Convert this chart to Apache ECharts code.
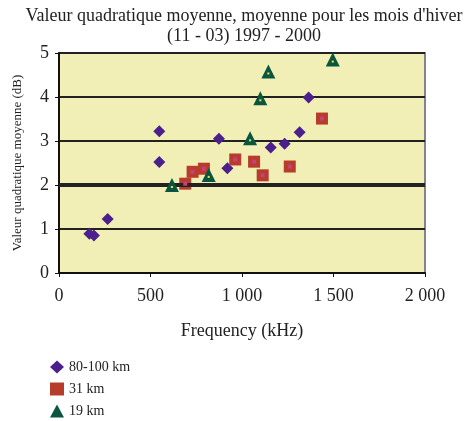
<!DOCTYPE html>
<html>
<head>
<meta charset="utf-8">
<script src="https://cdn.jsdelivr.net/npm/echarts@6/dist/echarts.min.js"></script>
<style>
  html, body { margin: 0; padding: 0; background: #fff; }
  #chart { width: 471px; height: 421px; }
</style>
</head>
<body>
<div id="chart"></div>
<script>
const seriesNames = ["80-100 km", "31 km", "19 km"];

// [frequency kHz, value dB]
const km80to100 = [
  [166, 0.89], [191, 0.85], [266, 1.23], [548, 3.22], [548, 2.52],
  [874, 3.05], [920, 2.38], [1157, 2.85], [1233, 2.94], [1315, 3.2], [1364, 3.99]
];
const km31 = [
  [690, 2.03], [730, 2.3], [792, 2.37], [963, 2.58], [1066, 2.53],
  [1113, 2.22], [1261, 2.42], [1437, 3.51]
];
const km19 = [
  [617, 2.0], [818, 2.23], [1044, 3.06], [1100, 3.97], [1144, 4.58], [1496, 4.85]
];
const refLine = 2;

const serif = '"Liberation Serif", "DejaVu Serif", serif';
const chart = echarts.init(document.getElementById("chart"));

const option = {
  animation: false,
  textStyle: { fontFamily: serif },
  title: {
    text: "Valeur quadratique moyenne, moyenne pour les mois d'hiver\n(11 - 03) 1997 - 2000",
    left: 239,
    textAlign: "center",
    top: 1,
    textStyle: { fontFamily: serif, fontSize: 18, fontWeight: "normal", color: "#222", lineHeight: 20 }
  },
  legend: {
    orient: "vertical",
    left: 50,
    top: 360,
    padding: 0,
    itemGap: 8,
    itemWidth: 14,
    itemHeight: 13,
    data: seriesNames,
    textStyle: { fontFamily: serif, fontSize: 14, color: "#222" }
  },
  grid: {
    left: 59, right: 46, top: 53, bottom: 148,
    show: true,
    backgroundColor: "#F1EEB6",
    borderColor: "#7F878C",
    borderWidth: 2
  },
  xAxis: {
    type: "value",
    min: 0, max: 2000, interval: 500,
    name: "Frequency (kHz)",
    nameLocation: "middle",
    nameGap: 49,
    nameTextStyle: { fontFamily: serif, fontSize: 18, color: "#222" },
    axisLine: { show: true, lineStyle: { color: "#111", width: 2 } },
    axisTick: { show: true, length: 4, lineStyle: { color: "#111" } },
    axisLabel: {
      fontFamily: serif, fontSize: 18, color: "#222", margin: 14,
      formatter: v => v >= 1000 ? Math.floor(v / 1000) + " " + String(v % 1000).padStart(3, "0") : String(v)
    },
    splitLine: { show: false }
  },
  yAxis: {
    type: "value",
    min: 0, max: 5, interval: 1,
    name: "Valeur quadratique moyenne (dB)",
    nameLocation: "middle",
    nameGap: 35,
    nameTextStyle: { fontFamily: serif, fontSize: 13, color: "#222" },
    axisLine: { show: true, lineStyle: { color: "#111", width: 2 } },
    axisTick: { show: true, length: 4, lineStyle: { color: "#111" } },
    axisLabel: { fontFamily: serif, fontSize: 18, color: "#222", margin: 10 },
    splitLine: { show: true, lineStyle: { color: "#222", width: 2 } }
  },
  series: [
    {
      name: seriesNames[0],
      type: "scatter",
      data: km80to100,
      symbol: "diamond",
      symbolSize: 12,
      itemStyle: { color: "#4B1F8C", opacity: 1 },
      z: 3,
      markLine: {
        silent: true,
        symbol: "none",
        label: { show: false },
        lineStyle: { color: "#222", width: 4, type: "solid" },
        data: [{ yAxis: refLine }]
      }
    },
    {
      name: seriesNames[1],
      type: "scatter",
      data: km31,
      symbol: "rect",
      symbolSize: 12,
      itemStyle: { color: "#B83C2C", opacity: 1 },
      z: 4
    },
    {
      name: "31 km centre",
      type: "scatter",
      data: km31,
      symbol: "rect",
      symbolSize: 4,
      itemStyle: { color: "#C8407A", opacity: 1 },
      z: 5,
      silent: true
    },
    {
      name: seriesNames[2],
      type: "scatter",
      data: km19,
      symbol: "triangle",
      symbolSize: 14,
      itemStyle: { color: "#0A5540", opacity: 1 },
      z: 6
    },
    {
      name: "19 km centre",
      type: "scatter",
      data: km19,
      symbol: "rect",
      symbolSize: 2,
      symbolOffset: [0, 2],
      itemStyle: { color: "#F3E43A", opacity: 1 },
      z: 7,
      silent: true
    }
  ]
};

chart.setOption(option);
window.addEventListener("resize", () => chart.resize());
</script>
</body>
</html>
